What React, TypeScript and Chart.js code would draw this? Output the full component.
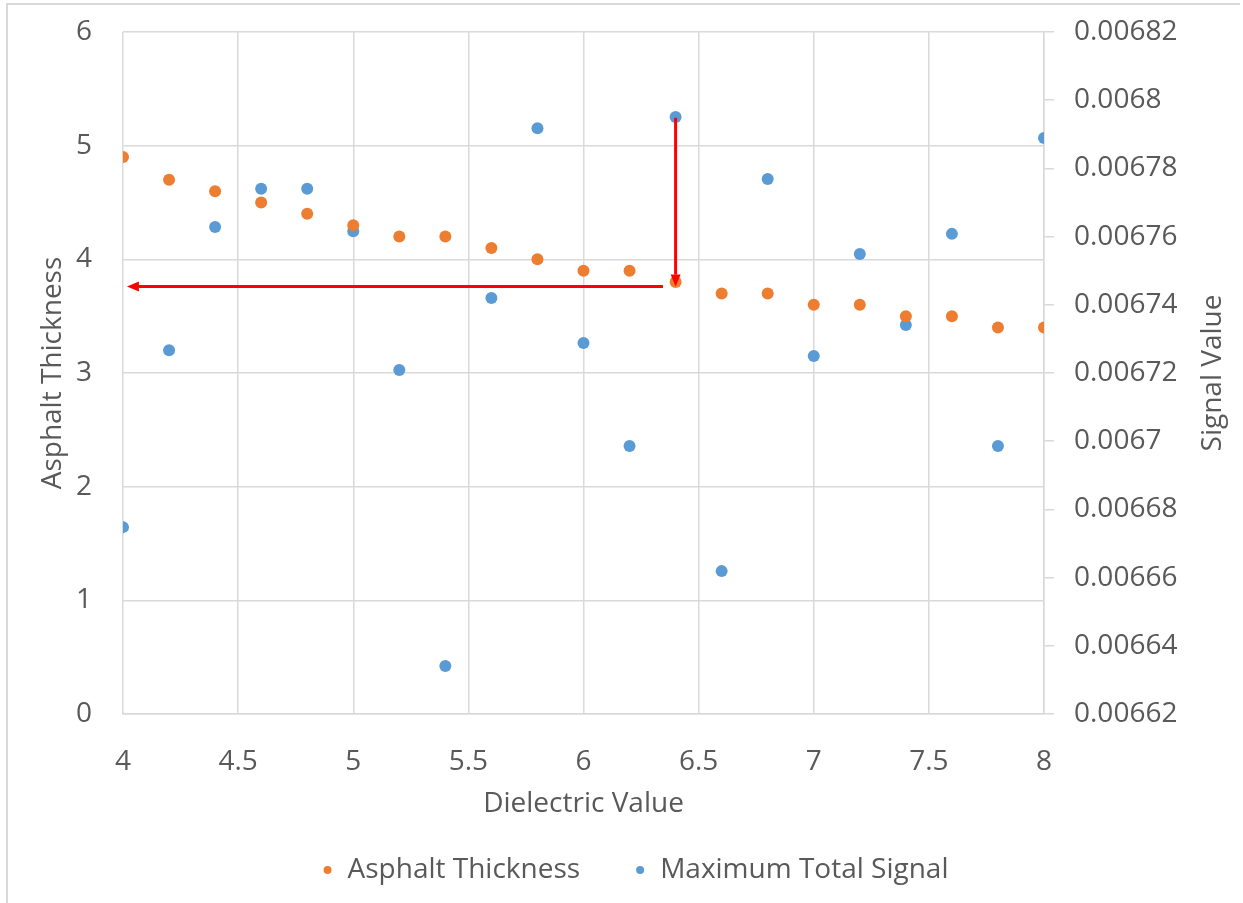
import React, { useEffect, useRef } from "react";
import { Chart, registerables } from "chart.js";

Chart.register(...registerables);

const dielectric = [4, 4.2, 4.4, 4.6, 4.8, 5, 5.2, 5.4, 5.6, 5.8, 6, 6.2, 6.4, 6.6, 6.8, 7, 7.2, 7.4, 7.6, 7.8, 8];
const asphaltThickness = [4.9, 4.7, 4.6, 4.5, 4.4, 4.3, 4.2, 4.2, 4.1, 4.0, 3.9, 3.9, 3.8, 3.7, 3.7, 3.6, 3.6, 3.5, 3.5, 3.4, 3.4];
const maxTotalSignal = [
  0.0066748, 0.0067267, 0.0067628, 0.006774, 0.006774, 0.0067616, 0.0067209, 0.0066341, 0.006742, 0.0067918,
  0.0067288, 0.0066986, 0.0067951, 0.0066619, 0.0067769, 0.006725, 0.0067549, 0.0067341, 0.0067608, 0.0066986,
  0.0067889,
];
const seriesLabels = ["Asphalt Thickness", "Maximum Total Signal"];
const xTitle = "Dielectric Value";
const yLeftTitle = "Asphalt Thickness";
const yRightTitle = "Signal Value";
// arrows in data units (x on dielectric axis, y on asphalt thickness axis)
const arrowDown = { x: 6.4, y1: 5.245, y2: 3.76 };
const arrowLeft = { y: 3.76, x1: 6.345, x2: 4.017 };

const FONT = "'Open Sans', sans-serif";
const TEXT = "#595959";
const GRID = "#d9d9d9";
const ORANGE = "#ED7D31";
const BLUE = "#5B9BD5";

const framePlugin = {
  id: "frame",
  beforeDraw(chart: any) {
    const ctx = chart.ctx;
    ctx.save();
    ctx.fillStyle = "#ffffff";
    ctx.fillRect(0, 0, chart.width, chart.height);
    ctx.strokeStyle = GRID;
    ctx.lineWidth = 2;
    ctx.beginPath();
    ctx.moveTo(7, chart.height);
    ctx.lineTo(7, 4);
    ctx.lineTo(1240, 4);
    ctx.stroke();
    ctx.restore();
  },
};

function drawArrow(ctx: any, x1: number, y1: number, x2: number, y2: number) {
  const ang = Math.atan2(y2 - y1, x2 - x1);
  const headLen = 12;
  const headHalf = 5;
  const bx = x2 - headLen * Math.cos(ang);
  const by = y2 - headLen * Math.sin(ang);
  ctx.beginPath();
  ctx.moveTo(x1, y1);
  ctx.lineTo(bx, by);
  ctx.stroke();
  ctx.beginPath();
  ctx.moveTo(x2, y2);
  ctx.lineTo(bx + headHalf * Math.sin(ang), by - headHalf * Math.cos(ang));
  ctx.lineTo(bx - headHalf * Math.sin(ang), by + headHalf * Math.cos(ang));
  ctx.closePath();
  ctx.fill();
}

const overlayPlugin = {
  id: "overlay",
  afterDraw(chart: any) {
    const ctx = chart.ctx;
    const xs = chart.scales.x;
    const ys = chart.scales.y;
    ctx.save();
    // arrows
    ctx.strokeStyle = "#ff0000";
    ctx.fillStyle = "#ff0000";
    ctx.lineWidth = 3;
    drawArrow(ctx, xs.getPixelForValue(arrowDown.x), ys.getPixelForValue(arrowDown.y1), xs.getPixelForValue(arrowDown.x), ys.getPixelForValue(arrowDown.y2));
    drawArrow(ctx, xs.getPixelForValue(arrowLeft.x1), ys.getPixelForValue(arrowLeft.y), xs.getPixelForValue(arrowLeft.x2), ys.getPixelForValue(arrowLeft.y));

    // right axis title (reads bottom to top)
    const area = chart.chartArea;
    ctx.fillStyle = TEXT;
    ctx.font = `28px ${FONT}`;
    ctx.textAlign = "center";
    ctx.textBaseline = "middle";
    ctx.save();
    ctx.translate(1213, (area.top + area.bottom) / 2);
    ctx.rotate(-Math.PI / 2);
    ctx.fillText(yRightTitle, 0, 0);
    ctx.restore();

    // legend
    const ds = chart.data.datasets;
    const dotR = 4;
    const gapText = 16;
    const itemGap = 56;
    ctx.textAlign = "left";
    const widths = ds.map((d: any) => 2 * dotR + gapText + ctx.measureText(d.label).width);
    const total = widths.reduce((a: number, b: number) => a + b, 0) + itemGap * (ds.length - 1);
    let x = 636 - total / 2;
    const cy = 870;
    ds.forEach((d: any, i: number) => {
      ctx.fillStyle = d.backgroundColor;
      ctx.beginPath();
      ctx.arc(x + dotR, cy, dotR, 0, Math.PI * 2);
      ctx.fill();
      ctx.fillStyle = TEXT;
      ctx.fillText(d.label, x + 2 * dotR + gapText, cy);
      x += widths[i] + itemGap;
    });
    ctx.restore();
  },
};

export default function App() {
  const ref = useRef<HTMLCanvasElement | null>(null);
  useEffect(() => {
    if (!ref.current) return;
    const tickFont = { family: FONT, size: 28 };
    const chart = new Chart(ref.current, {
      type: "scatter",
      data: {
        datasets: [
          {
            label: seriesLabels[0],
            data: dielectric.map((x, i) => ({ x, y: asphaltThickness[i] })),
            backgroundColor: ORANGE,
            borderColor: ORANGE,
            borderWidth: 0,
            pointRadius: 6,
            yAxisID: "y",
          },
          {
            label: seriesLabels[1],
            data: dielectric.map((x, i) => ({ x, y: maxTotalSignal[i] })),
            backgroundColor: BLUE,
            borderColor: BLUE,
            borderWidth: 0,
            pointRadius: 6,
            yAxisID: "y1",
          },
        ],
      },
      options: {
        animation: false,
        responsive: false,
        layout: { padding: { top: 32, left: 0, right: 0, bottom: 0 } },
        plugins: { legend: { display: false }, tooltip: { enabled: false } },
        scales: {
          x: {
            type: "linear",
            min: 4,
            max: 8,
            ticks: {
              stepSize: 0.5,
              color: TEXT,
              font: tickFont,
              padding: 31,
              maxRotation: 0,
              callback: (v: any) => String(parseFloat(Number(v).toFixed(2))),
            },
            grid: { color: GRID, lineWidth: 1.5, drawTicks: false },
            border: { color: GRID, width: 1.5 },
            title: { display: true, text: xTitle, color: TEXT, font: tickFont, padding: 82 },
            afterFit(scale: any) {
              scale.height = 189;
              scale.paddingLeft = 0;
              scale.paddingRight = 0;
            },
          },
          y: {
            type: "linear",
            position: "left",
            min: 0,
            max: 6,
            ticks: { stepSize: 1, color: TEXT, font: tickFont, padding: 31 },
            grid: { color: GRID, lineWidth: 1.5, drawTicks: false },
            border: { display: false },
            title: { display: true, text: yLeftTitle, color: TEXT, font: tickFont, padding: 36 },
            afterFit(scale: any) {
              scale.width = 123;
              scale.paddingTop = 0;
              scale.paddingBottom = 0;
            },
          },
          y1: {
            type: "linear",
            position: "right",
            min: 0.00662,
            max: 0.00682,
            ticks: {
              stepSize: 0.00002,
              color: TEXT,
              font: tickFont,
              padding: 20,
              callback: (v: any) => String(parseFloat(Number(v).toFixed(5))),
            },
            grid: { drawOnChartArea: false, color: GRID, lineWidth: 1.5, drawTicks: true, tickLength: 10 },
            border: { color: GRID, width: 1.5 },
            afterFit(scale: any) {
              scale.width = 199;
              scale.paddingTop = 0;
              scale.paddingBottom = 0;
            },
          },
        },
      },
      plugins: [framePlugin, overlayPlugin],
    } as any);
    return () => chart.destroy();
  }, []);
  return (
    <div style={{ position: "fixed", left: 0, top: 0, width: 1243, height: 903, background: "#fff" }}>
      <canvas ref={ref} width={1243} height={903} style={{ width: 1243, height: 903 }} />
    </div>
  );
}
